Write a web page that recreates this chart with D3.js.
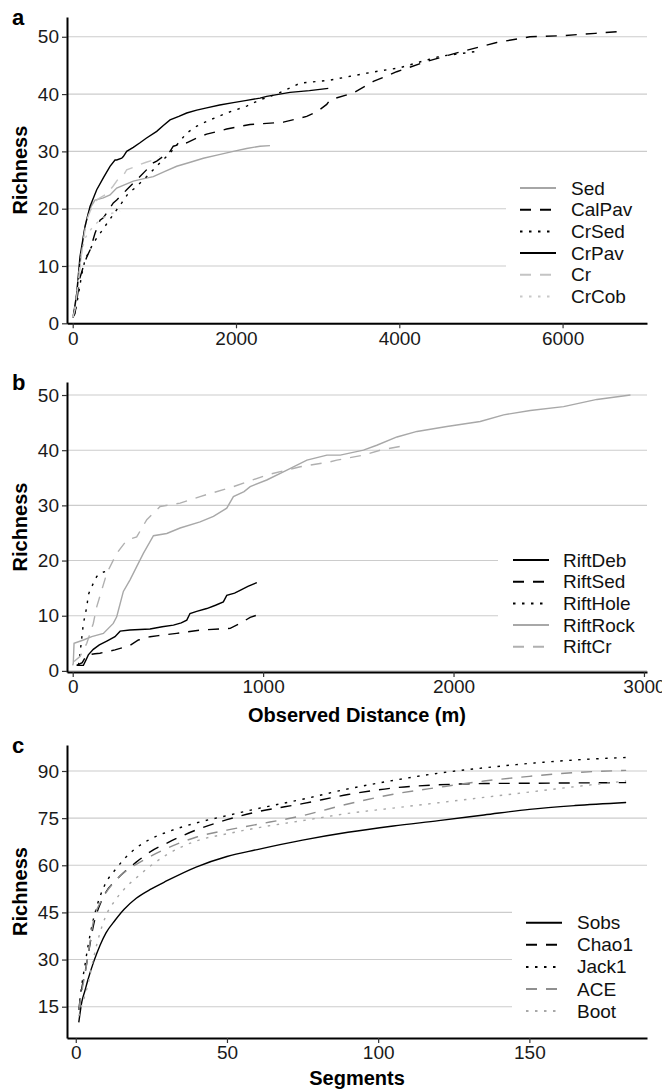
<!DOCTYPE html>
<html>
<head>
<meta charset="utf-8">
<script src="https://cdn.jsdelivr.net/npm/d3@7"></script>
<style>
  body { margin: 0; background: #fff; }
  svg { display: block; font-family: "Liberation Sans", Arial, sans-serif; }
</style>
</head>
<body>
<div id="chart"></div>
<script>
// ---- panel a : richness vs observed distance, habitat types ----
var aNames = ["Sed", "CalPav", "CrSed", "CrPav", "Cr", "CrCob"];
var aSedX = [0, 30, 69, 100, 130, 160, 191, 230, 273, 375, 457, 539, 640, 742, 860, 987, 1130, 1274, 1440, 1600, 1780, 1967, 2130, 2294, 2416];
var aSedY = [1, 3, 7.6, 11.5, 15.1, 17.5, 19.2, 20.5, 21.5, 21.9, 22.4, 23.6, 24.2, 24.8, 25.2, 25.6, 26.5, 27.4, 28.1, 28.8, 29.4, 30, 30.5, 30.9, 31];
var aCalPavX = [0, 28, 60, 90, 130, 170, 212, 273, 335, 375, 497, 539, 661, 824, 987, 1029, 1192, 1232, 1396, 1559, 1641, 1886, 2172, 2294, 2580, 2866, 3000, 3111, 3152, 3437, 3682, 3968, 4336, 4784, 5193, 5601, 6009, 6400, 6770];
var aCalPavY = [1, 1.7, 5, 8, 9.9, 11.5, 12.8, 15.7, 18, 18.4, 21, 21.5, 23.3, 25.6, 28, 28.3, 30, 30.9, 31.5, 32.6, 33, 33.9, 34.7, 34.8, 35.1, 36.1, 37, 38.2, 39, 40.2, 42.2, 43.9, 45.7, 47.5, 49, 50, 50.2, 50.6, 51];
var aCrSedX = [0, 30, 70, 110, 151, 252, 375, 497, 600, 681, 763, 906, 1069, 1192, 1396, 1519, 1682, 1886, 2131, 2294, 2500, 2784, 3142, 3396, 3700, 4008, 4300, 4499, 4825, 4970];
var aCrSedY = [1, 2, 5, 8.5, 11.1, 14, 16.5, 19, 21, 22.7, 23.6, 25.6, 28, 29.7, 33.2, 34.4, 35.5, 36.7, 37.9, 39, 40, 41.9, 42.4, 43.1, 43.9, 44.6, 45.8, 46.6, 47.2, 47.5];
var aCrPavX = [0, 7, 49, 89, 151, 212, 294, 380, 457, 518, 539, 600, 620, 661, 742, 824, 900, 1029, 1110, 1192, 1300, 1396, 1519, 1641, 1800, 1967, 2131, 2294, 2376, 2500, 2661, 2900, 3130];
var aCrPavY = [1, 1.2, 5.2, 11.6, 16.9, 20.4, 23.3, 25.5, 27.4, 28.5, 28.5, 28.8, 29.1, 30, 30.7, 31.5, 32.3, 33.5, 34.5, 35.5, 36.1, 36.7, 37.2, 37.6, 38.1, 38.5, 38.9, 39.3, 39.6, 39.9, 40.3, 40.6, 41];
var aCrX = [0, 30, 60, 89, 130, 171, 212, 260, 294, 334, 420, 498, 558, 620, 661, 742, 824, 900, 987, 1069];
var aCrY = [1, 2.5, 6, 10, 14.5, 18, 19.5, 21, 21.5, 21.9, 22.6, 24, 25.2, 25.8, 26.8, 27.2, 27.7, 28.1, 28.5, 29.1];
var aCrCobX = [0, 20, 50, 80, 110, 150, 200, 260, 330, 400, 480, 580];
var aCrCobY = [1, 2, 5, 9, 12.5, 14.8, 16, 17, 18, 18.6, 19.2, 19.6];

// ---- panel b : rift habitats ----
var bNames = ["RiftDeb", "RiftSed", "RiftHole", "RiftRock", "RiftCr"];
var bRiftDebX = [21, 56, 70, 82, 108, 140, 179, 222, 249, 300, 406, 470, 529, 570, 599, 616, 651, 704, 750, 791, 809, 850, 879, 920, 967];
var bRiftDebY = [1, 1, 2, 2.9, 3.9, 4.7, 5.4, 6.2, 7.2, 7.4, 7.6, 8, 8.3, 8.7, 9.2, 10.4, 10.8, 11.3, 11.9, 12.5, 13.7, 14.1, 14.6, 15.3, 16];
var bRiftSedX = [21, 50, 74, 117, 143, 222, 300, 345, 406, 450, 546, 669, 827, 879, 932, 967];
var bRiftSedY = [1, 1.5, 2.9, 3.1, 3.2, 3.8, 4.6, 5.6, 6.2, 6.4, 6.8, 7.4, 7.7, 8.6, 9.7, 10.1];
var bRiftHoleX = [30, 38, 56, 74, 82, 91, 110, 126, 150, 170];
var bRiftHoleY = [1, 3, 8.6, 11.6, 13.8, 14.6, 16, 17.1, 17.8, 18];
var bRiftRockX = [0, 3, 7, 56, 100, 161, 213, 231, 240, 266, 301, 336, 371, 424, 494, 564, 669, 739, 809, 844, 900, 932, 1019, 1125, 1230, 1335, 1405, 1527, 1597, 1703, 1808, 1965, 2140, 2263, 2403, 2578, 2753, 2929];
var bRiftRockY = [1, 1.4, 5, 5.6, 6.2, 6.8, 8.6, 9.8, 11, 14.4, 16.5, 18.9, 21.3, 24.5, 24.9, 25.9, 27, 28, 29.5, 31.6, 32.5, 33.4, 34.6, 36.4, 38.2, 39.1, 39.1, 40, 40.9, 42.4, 43.4, 44.3, 45.2, 46.4, 47.2, 47.9, 49.2, 50];
var bRiftCrX = [7, 38, 74, 108, 126, 179, 231, 284, 336, 389, 459, 564, 669, 844, 1019, 1195, 1352, 1387, 1527, 1615, 1738];
var bRiftCrY = [1.7, 2.6, 5, 8.6, 11.6, 17.7, 21.3, 23.7, 24.3, 27.4, 29.8, 30.4, 31.6, 33.4, 35.5, 37, 37.9, 38.2, 39.1, 40, 40.8];

// ---- panel c : richness estimators vs segments ----
var cNames = ["Sobs", "Chao1", "Jack1", "ACE", "Boot"];
var cSegments = [1, 2, 3, 4, 6, 8, 10, 13, 16, 20, 25, 30, 40, 50, 60, 75, 90, 105, 120, 135, 150, 165, 182];
var cSobs  = [10, 16.5, 20, 23.5, 29.5, 34.5, 38.5, 42.5, 46, 49.5, 52.5, 55, 59.5, 62.8, 65, 68, 70.5, 72.5, 74.2, 76, 77.8, 79, 80];
var cChao1 = [14, 21, 25.5, 31, 41.5, 47.5, 51.5, 55, 57.8, 61, 64.5, 67, 71.3, 74.5, 77, 79.6, 82.5, 84.6, 85.6, 86, 86.1, 86.2, 86.3];
var cJack1 = [14, 22, 28, 34, 43.5, 50, 54.5, 58.5, 62, 65.5, 68.5, 70.5, 73.5, 75.8, 78, 81, 84.3, 87, 89.3, 91, 92.4, 93.5, 94.3];
var cACE   = [14, 20, 25, 31, 43, 48, 51.3, 55, 57.7, 60.3, 63, 65.3, 69, 71.2, 73, 75.8, 79.5, 82.6, 84.8, 86.8, 88.3, 89.5, 90.2];
var cBoot  = [12, 15.5, 18.5, 22, 31, 38.5, 44, 48.8, 52.4, 56, 60, 63.3, 67.8, 70, 71.9, 74.2, 76.5, 78.2, 79.9, 81.6, 83.3, 85, 86.8];

// tick labels
var abYTicks = [0, 10, 20, 30, 40, 50];
var aXTicks = [0, 2000, 4000, 6000];
var bXTicks = [0, 1000, 2000, 3000];
var cXTicks = [0, 50, 100, 150];
var cYTicks = [15, 30, 45, 60, 75, 90];

function zip(xs, ys) {
	return xs.map(function(x, i) { return {x: x, y: ys[i]}; });
}

var DASH = "11,9", DOT = "2.5,6.5";
var FONT = "'Liberation Sans', Arial, sans-serif";

var W = 662, H = 1089;
var svg = d3.select("#chart").append("svg")
	.attr("width", W)
	.attr("height", H);

var left = 67, right = 647;

function drawPanel(p) {
	var g = svg.append("g");
	var x = d3.scaleLinear().domain(p.xDomain).range([left, right]);
	var y = d3.scaleLinear().domain(p.yDomain).range([p.bottom, p.top]);

	// horizontal grid lines
	g.selectAll(".grid")
		.data(p.yTicks)
		.enter().append("line")
		.attr("x1", left).attr("x2", right)
		.attr("y1", function(d) { return y(d); })
		.attr("y2", function(d) { return y(d); })
		.style("stroke", "#cccccc")
		.style("stroke-width", 1.1);

	var line = d3.line()
		.x(function(d) { return x(d.x); })
		.y(function(d) { return y(d.y); })
		.curve(p.curve || d3.curveLinear);

	g.selectAll(".series")
		.data(p.series)
		.enter().append("path")
		.attr("d", function(d) { return line(d.values); })
		.style("fill", "none")
		.style("stroke", function(d) { return d.color; })
		.style("stroke-width", 1.4)
		.style("stroke-dasharray", function(d) { return d.dash; });

	// legend with white background
	var lg = g.append("g");
	lg.append("rect")
		.attr("x", p.legend.x).attr("y", p.legend.y)
		.attr("width", right - p.legend.x).attr("height", p.legend.h)
		.style("fill", "#fff");
	var items = lg.selectAll(".item")
		.data(p.series)
		.enter().append("g")
		.attr("transform", function(d, i) { return "translate(0," + (p.legend.y0 + i * p.legend.step) + ")"; });
	items.append("line")
		.attr("x1", p.legend.kx).attr("x2", p.legend.kx + 36)
		.attr("y1", 0).attr("y2", 0)
		.style("stroke", function(d) { return d.color; })
		.style("stroke-width", 2)
		.style("stroke-dasharray", function(d) { return d.dash; });
	items.append("text")
		.attr("x", p.legend.tx)
		.attr("y", 6.5)
		.style("font-size", "19px")
		.style("fill", "#111")
		.text(function(d) { return d.name; });

	// axes
	var yAxis = d3.axisLeft(y).tickValues(p.yTicks).tickFormat(d3.format("d"))
		.tickSize(5).tickSizeOuter(0).tickPadding(3);
	var xAxis = d3.axisBottom(x).tickValues(p.xTicks).tickFormat(d3.format("d"))
		.tickSize(5).tickSizeOuter(0).tickPadding(3);
	var ya = g.append("g").attr("transform", "translate(" + left + ",0)").call(yAxis);
	var xa = g.append("g").attr("transform", "translate(0," + p.bottom + ")").call(xAxis);
	[ya, xa].forEach(function(a) {
		a.select(".domain").style("stroke", "#000").style("stroke-width", 2);
		a.selectAll(".tick line").style("stroke", "#333").style("stroke-width", 1.2);
		a.selectAll(".tick text").style("font-size", "19px").style("fill", "#1a1a1a")
			.style("font-family", FONT);
	});

	// titles
	g.append("text")
		.attr("transform", "translate(27," + ((p.top + p.bottom) / 2) + ") rotate(-90)")
		.attr("text-anchor", "middle")
		.style("font-size", "20px").style("font-weight", "bold")
		.text("Richness");
	if (p.xTitle) {
		g.append("text")
			.attr("x", (left + right) / 2).attr("y", p.xTitleY)
			.attr("text-anchor", "middle")
			.style("font-size", "20px").style("font-weight", "bold")
			.text(p.xTitle);
	}
	g.append("text")
		.attr("x", 12).attr("y", p.labelY)
		.style("font-size", "22px").style("font-weight", "bold")
		.text(p.label);
}

drawPanel({
	label: "a", labelY: 25,
	top: 17, bottom: 323.3,
	xDomain: [-70, 7034], yDomain: [0, 53.45],
	xTicks: aXTicks, yTicks: abYTicks,
	series: [
		{name: aNames[0], values: zip(aSedX, aSedY), color: "#a6a6a6", dash: null},
		{name: aNames[1], values: zip(aCalPavX, aCalPavY), color: "#000", dash: DASH},
		{name: aNames[2], values: zip(aCrSedX, aCrSedY), color: "#000", dash: DOT},
		{name: aNames[3], values: zip(aCrPavX, aCrPavY), color: "#000", dash: null},
		{name: aNames[4], values: zip(aCrX, aCrY), color: "#c4c4c4", dash: DASH},
		{name: aNames[5], values: zip(aCrCobX, aCrCobY), color: "#c8c8c8", dash: DOT}
	],
	legend: {x: 506, y: 176, h: 133, y0: 188, step: 21.7, kx: 520, tx: 571}
});

drawPanel({
	label: "b", labelY: 390,
	top: 382, bottom: 672,
	xDomain: [-30, 3016], yDomain: [-0.2, 52.36],
	xTicks: bXTicks, yTicks: abYTicks,
	xTitle: "Observed Distance (m)", xTitleY: 722,
	series: [
		{name: bNames[0], values: zip(bRiftDebX, bRiftDebY), color: "#000", dash: null},
		{name: bNames[1], values: zip(bRiftSedX, bRiftSedY), color: "#000", dash: DASH},
		{name: bNames[2], values: zip(bRiftHoleX, bRiftHoleY), color: "#000", dash: DOT},
		{name: bNames[3], values: zip(bRiftRockX, bRiftRockY), color: "#a8a8a8", dash: null},
		{name: bNames[4], values: zip(bRiftCrX, bRiftCrY), color: "#b0b0b0", dash: DASH}
	],
	legend: {x: 498, y: 549, h: 110, y0: 560, step: 21.7, kx: 513, tx: 563}
});

drawPanel({
	label: "c", labelY: 753,
	top: 745, bottom: 1038,
	xDomain: [-2.9, 188.9], yDomain: [5.04, 98.27],
	xTicks: cXTicks, yTicks: cYTicks,
	xTitle: "Segments", xTitleY: 1085,
	curve: d3.curveMonotoneX,
	series: [
		{name: cNames[0], values: zip(cSegments, cSobs), color: "#000", dash: null},
		{name: cNames[1], values: zip(cSegments, cChao1), color: "#000", dash: DASH},
		{name: cNames[2], values: zip(cSegments, cJack1), color: "#000", dash: DOT},
		{name: cNames[3], values: zip(cSegments, cACE), color: "#8f8f8f", dash: DASH},
		{name: cNames[4], values: zip(cSegments, cBoot), color: "#a8a8a8", dash: DOT}
	],
	legend: {x: 512, y: 908, h: 116, y0: 922.7, step: 22.1, kx: 526, tx: 577}
});
</script>
</body>
</html>
